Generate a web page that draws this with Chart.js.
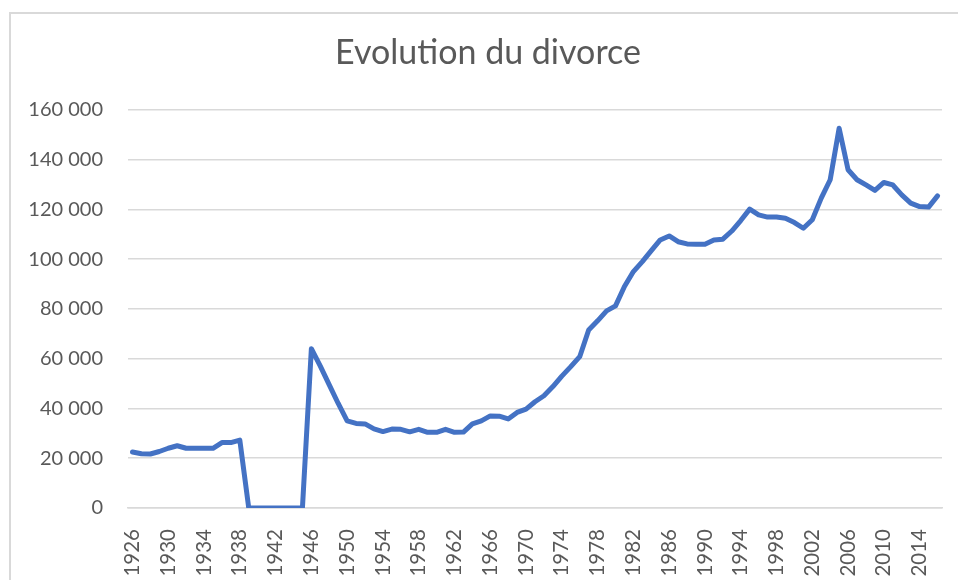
<!DOCTYPE html>
<html>
<head>
<meta charset="utf-8">
<script src="https://cdn.jsdelivr.net/npm/chart.js@4"></script>
<style>
  html, body { margin: 0; padding: 0; background: #fff; }
  #wrap { width: 958px; height: 580px; position: relative; }
</style>
</head>
<body>
<div id="wrap"><canvas id="divorce" width="958" height="580"></canvas></div>
<script>
const years = [];
for (let y = 1926; y <= 2016; y++) years.push(String(y));

const divorces = [
  22500, 21800, 21700, 22700, 24000, 25000, 24000, 24000, 24000, 24000,
  26300, 26300, 27300,
  0, 0, 0, 0, 0, 0, 0,
  64000, 57000, 49500, 42000, 35000, 34000, 33800, 31800, 30700, 31700,
  31600, 30600, 31600, 30400, 30400, 31600, 30400, 30500, 33800, 35000,
  37000, 36900, 35800, 38400, 39700, 42700, 45100, 48800, 53000, 56800,
  60800, 71500, 75200, 79200, 81200, 89000, 95000, 99000, 103400, 107700,
  109300, 107000, 106100, 106000, 106000, 107700, 108000, 111300, 115500, 120100,
  117800, 116900, 116900, 116400, 114700, 112400, 115800, 124500, 131900, 152600,
  135900, 131900, 129800, 127600, 130800, 129800, 125800, 122500, 121100, 120900,
  125400
];

const yTicks = [0, 20000, 40000, 60000, 80000, 100000, 120000, 140000, 160000];

const grey = '#595959';
const gridGrey = '#d9d9d9';

// cadre gris du graphique (bord gauche et haut)
const frame = {
  id: 'frame',
  beforeDraw(chart) {
    const c = chart.ctx;
    c.save();
    c.strokeStyle = gridGrey;
    c.lineWidth = 2;
    c.beginPath();
    c.moveTo(10, 600);
    c.lineTo(10, 13);
    c.lineTo(970, 13);
    c.stroke();
    c.restore();
  }
};

new Chart(document.getElementById('divorce'), {
  type: 'line',
  data: {
    labels: years,
    datasets: [{
      label: 'Divorces',
      data: divorces,
      borderColor: '#4472C4',
      borderWidth: 5,
      borderJoinStyle: 'round',
      borderCapStyle: 'round',
      pointRadius: 0,
      tension: 0,
      fill: false
    }]
  },
  options: {
    responsive: false,
    animation: false,
    // titre décalé vers la droite comme dans Excel : marge droite négative + axe vide à droite
    layout: { padding: { left: 0, right: -18, top: 0, bottom: 0 } },
    plugins: {
      legend: { display: false },
      tooltip: { enabled: false },
      title: {
        display: true,
        text: 'Evolution du divorce',
        color: grey,
        font: { family: 'Lato', size: 34, weight: 'normal', lineHeight: 1.2 },
        padding: { top: 33, bottom: 36 }
      }
    },
    scales: {
      x: {
        offset: true,
        grid: { display: false },
        border: { display: true, color: gridGrey, width: 1.5 },
        ticks: {
          autoSkip: false,
          minRotation: 90,
          maxRotation: 90,
          padding: 13,
          color: grey,
          font: { family: 'Lato', size: 20.5 },
          callback: (v, i) => ((Number(years[i]) - 1926) % 4 === 0 ? years[i] : null)
        },
        afterFit: s => { s.height = 72; }
      },
      y: {
        min: 0,
        max: 160000,
        afterBuildTicks: s => { s.ticks = yTicks.map(v => ({ value: v })); },
        grid: { color: gridGrey, lineWidth: 1.5, drawTicks: false },
        border: { display: false },
        ticks: {
          padding: 25,
          color: grey,
          font: { family: 'Lato', size: 20 },
          callback: v => String(v).replace(/\B(?=(\d{3})+(?!\d))/g, ' ')
        },
        afterFit: s => { s.width = 128; }
      },
      spacer: {
        position: 'right',
        min: 0,
        max: 160000,
        grid: { display: false },
        border: { display: false },
        ticks: { display: false },
        afterFit: s => { s.width = 34; }
      }
    }
  },
  plugins: [frame]
});
</script>
</body>
</html>
